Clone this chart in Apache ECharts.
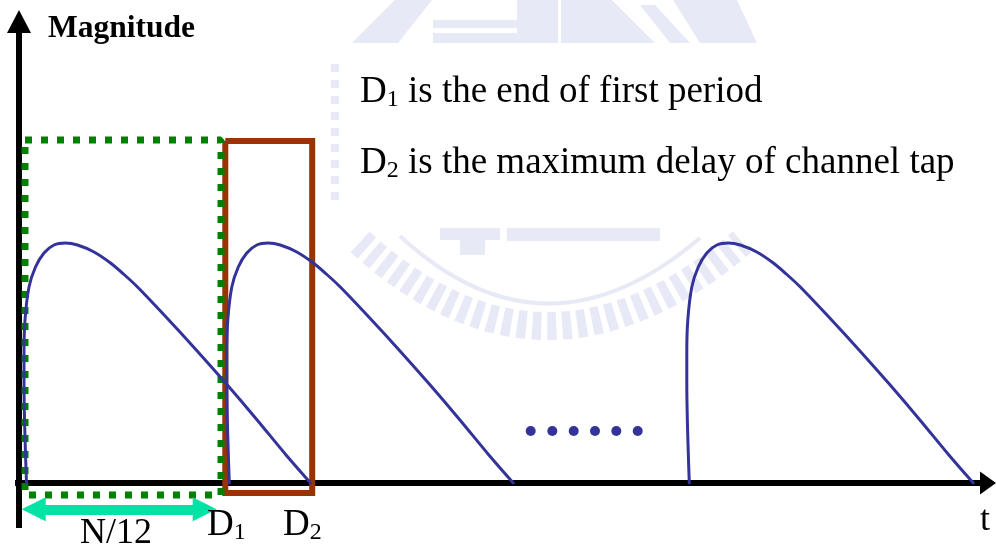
<!DOCTYPE html>
<html>
<head>
<meta charset="utf-8">
<script src="https://cdn.jsdelivr.net/npm/echarts@6/dist/echarts.min.js"></script>
<style>
  html, body { margin: 0; padding: 0; background: #ffffff; }
  #chart { width: 996px; height: 551px; }
</style>
</head>
<body>
<div id="chart"></div>
<script>
// Received pulses: time samples of each copy and the shared magnitude profile
const pulse1Time = [0.75, 0.5, 0.5, 0.6, 1.0, 1.65, 2.5, 3.5, 4.65, 5.85, 7.5, 9.15, 10.45, 11.85, 14.75, 17.75, 20.75, 23.75, 26.75, 29.15];
const pulse2Time = [21.03, 20.78, 20.78, 20.88, 21.28, 21.93, 22.78, 23.78, 24.93, 26.13, 27.78, 29.43, 30.73, 32.13, 35.03, 38.03, 41.03, 44.03, 47.03, 49.43];
const pulse3Time = [67.03, 66.78, 66.78, 66.88, 67.28, 67.93, 68.78, 69.78, 70.93, 72.13, 73.78, 75.43, 76.73, 78.13, 81.03, 84.03, 87.03, 90.03, 93.03, 95.43];
const pulseMagnitude = [0, 10, 13, 16.3, 19.6, 21.6, 23.0, 23.8, 24.0, 23.8, 23.1, 22.0, 20.9, 19.6, 16.55, 13.28, 9.89, 6.38, 2.75, 0];

// "......" continuation marks between the pulses
const ellipsisTime = [51.17, 53.33, 55.47, 57.6, 59.73, 61.87];
const ellipsisMagnitude = [5.2, 5.2, 5.2, 5.2, 5.2, 5.2];

// Key instants: D1 = end of first period, D2 = maximum channel-tap delay
const D1 = 20.2;
const D2 = 29.32;
const firstPeriodTime = [0.6, D1];          // dotted window
const firstPeriodMagnitude = [-1.2, 34.3];
const tapWindowTime = [20.63, D2];          // delay-spread window
const tapWindowMagnitude = [-1.0, 34.2];
const spanArrowTime = [1.47, 18.57];        // N/12 span
const spanArrowMagnitude = -2.63;

const serif = '"Liberation Serif", "Times New Roman", serif';

function zipPoints(xs, ys) {
  return xs.map((x, i) => [x, ys[i]]);
}
function boxPath(xr, yr) {
  return [[xr[0], yr[1]], [xr[1], yr[1]], [xr[1], yr[0]], [xr[0], yr[0]], [xr[0], yr[1]]];
}

const pulseStyle = { color: '#333399', width: 3, cap: 'round', join: 'round' };
function pulseSeries(times) {
  return {
    type: 'line',
    data: zipPoints(times, pulseMagnitude),
    showSymbol: false,
    smooth: 0.3,
    lineStyle: pulseStyle,
    silent: true,
    z: 6
  };
}

// faint background emblem
const wm = '#e8e9f6';
const watermark = [
  { type: 'polygon', shape: { points: [[395, 0], [432, 0], [398, 43], [352, 43]] } },
  { type: 'rect', shape: { x: 433, y: 20, width: 87, height: 8 } },
  { type: 'rect', shape: { x: 433, y: 33, width: 87, height: 10 } },
  { type: 'rect', shape: { x: 517, y: 0, width: 41, height: 43 } },
  { type: 'rect', shape: { x: 561, y: 0, width: 42, height: 43 } },
  { type: 'polygon', shape: { points: [[603, 0], [612, 0], [655, 43], [603, 43]] } },
  { type: 'polygon', shape: { points: [[640, 5], [655, 5], [690, 43], [670, 43]] } },
  { type: 'polygon', shape: { points: [[673, 0], [737, 0], [757, 43], [700, 43]] } },
  { type: 'rect', shape: { x: 507, y: 228, width: 153, height: 13 } },
  { type: 'rect', shape: { x: 440, y: 228, width: 60, height: 12 } },
  { type: 'rect', shape: { x: 460, y: 240, width: 25, height: 15 } }
].map(el => Object.assign(el, { style: { fill: wm }, z: -1, silent: true }));
watermark.push(
  { type: 'bezierCurve', shape: { x1: 360, y1: 242, cpx1: 545, cpy1: 410, x2: 742, y2: 242 },
    style: { stroke: wm, lineWidth: 28, lineDash: [9, 6], fill: null }, z: -1, silent: true },
  { type: 'bezierCurve', shape: { x1: 400, y1: 236, cpx1: 545, cpy1: 370, x2: 700, y2: 238 },
    style: { stroke: wm, lineWidth: 4, fill: null }, z: -1, silent: true },
  { type: 'line', shape: { x1: 335, y1: 64, x2: 335, y2: 200 },
    style: { stroke: wm, lineWidth: 8, lineDash: [8, 8] }, z: -1, silent: true }
);

function subText(x, y, main, sub, rest) {
  return {
    type: 'text', x: x, y: y, z: 100, silent: true,
    style: {
      text: '{m|' + main + '}{s|' + sub + '}' + (rest ? '{m|' + rest + '}' : ''),
      align: 'left', verticalAlign: 'middle',
      rich: {
        m: { fontSize: 37, fontFamily: serif, fill: '#000', lineHeight: 40, verticalAlign: 'middle' },
        s: { fontSize: 24, fontFamily: serif, fill: '#000', lineHeight: 24, verticalAlign: 'bottom' }
      }
    }
  };
}
function plainText(x, y, text, size, weight) {
  return {
    type: 'text', x: x, y: y, z: 100, silent: true,
    style: {
      text: text, fontSize: size, fontFamily: serif, fontWeight: weight || 'normal',
      fill: '#000', align: 'left', verticalAlign: 'middle'
    }
  };
}

const labels = [
  plainText(48, 28.5, 'Magnitude', 31.5, 'bold'),
  subText(360, 92, 'D', '1', ' is the end of first period'),
  subText(360, 163, 'D', '2', ' is the maximum delay of channel tap'),
  plainText(80, 534, 'N/12', 36),
  subText(207, 525, 'D', '1'),
  subText(283, 525, 'D', '2'),
  plainText(980, 521, 't', 36)
];

const chart = echarts.init(document.getElementById('chart'), null, { renderer: 'canvas' });
chart.setOption({
  animation: false,
  backgroundColor: '#ffffff',
  grid: { left: 15, right: 16, top: 33, bottom: 23, containLabel: false, outerBoundsMode: 'none' },
  xAxis: {
    type: 'value', min: -0.4, max: 96.1,
    axisLine: {
      onZero: true,
      lineStyle: { color: '#000', width: 6, cap: 'butt' },
      symbol: ['none', 'triangle'], symbolSize: [23, 16], symbolOffset: [0, 8]
    },
    axisTick: { show: false }, axisLabel: { show: false }, splitLine: { show: false }
  },
  yAxis: {
    type: 'value', min: -4.5, max: 45,
    axisLine: {
      onZero: true,
      lineStyle: { color: '#000', width: 6, cap: 'butt' },
      symbol: ['none', 'triangle'], symbolSize: [24, 23], symbolOffset: [0, 11.5]
    },
    axisTick: { show: false }, axisLabel: { show: false }, splitLine: { show: false }
  },
  series: [
    {
      // delay-spread window
      type: 'line', data: boxPath(tapWindowTime, tapWindowMagnitude),
      showSymbol: false, silent: true, z: 3,
      lineStyle: { color: '#993300', width: 6, join: 'miter', cap: 'butt' }
    },
    {
      // first period window
      type: 'line', data: boxPath(firstPeriodTime, firstPeriodMagnitude),
      showSymbol: false, silent: true, z: 4,
      lineStyle: { color: '#008000', width: 7, type: [7, 9], cap: 'butt' }
    },
    {
      // N/12 span arrow
      type: 'line', data: [], silent: true, z: 4,
      markLine: {
        silent: true, animation: false,
        symbol: ['triangle', 'triangle'], symbolSize: 24,
        label: { show: false },
        lineStyle: { color: '#00e3a5', width: 10, type: 'solid', opacity: 1 },
        emphasis: { disabled: true },
        data: [[{ coord: [spanArrowTime[0], spanArrowMagnitude] }, { coord: [spanArrowTime[1], spanArrowMagnitude] }]]
      }
    },
    pulseSeries(pulse1Time),
    pulseSeries(pulse2Time),
    pulseSeries(pulse3Time),
    {
      type: 'scatter', data: zipPoints(ellipsisTime, ellipsisMagnitude),
      symbol: 'circle', symbolSize: 10, silent: true, z: 6,
      itemStyle: { color: '#333399', opacity: 1 }
    }
  ],
  graphic: { elements: watermark.concat(labels) }
});
</script>
</body>
</html>
